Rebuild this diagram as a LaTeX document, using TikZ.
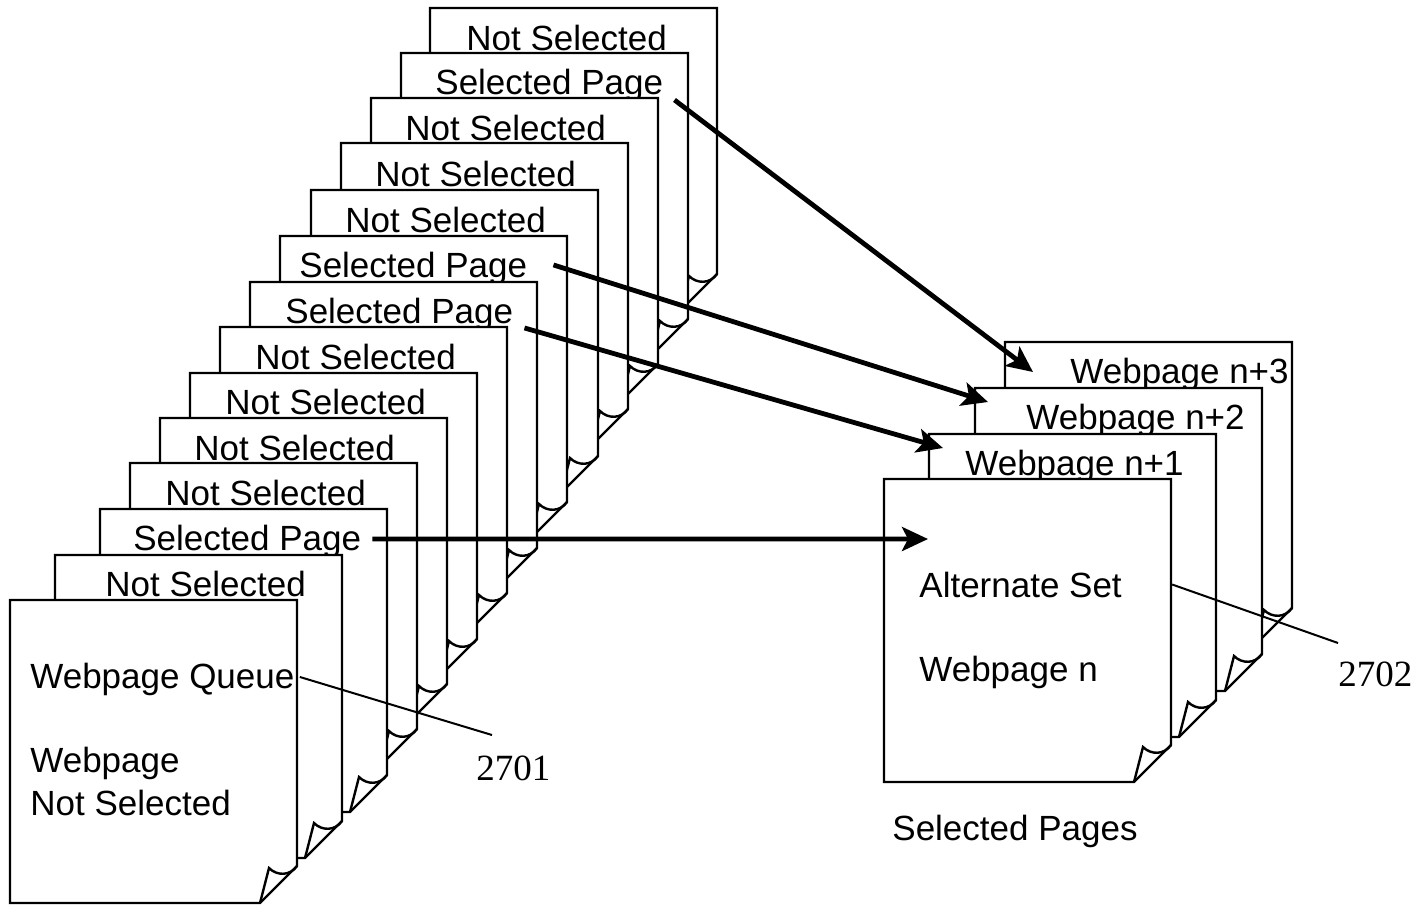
\documentclass[tikz,border=0pt]{standalone}
\usepackage{fontspec}
\setmainfont{Liberation Sans}
\newfontfamily\numfont{Liberation Serif}
\usetikzlibrary{arrows.meta}

\begin{document}
\begin{tikzpicture}[x=0.5pt,y=-0.5pt,
   pgline/.style={line width=1.2pt,line join=miter},
   webpg/.pic={
     \draw[pgline,fill=white] (0,0) -- (287,0) -- (287,266) -- (250,303) -- (0,303) -- cycle;
     \draw[pgline] (250,303) -- (259,268) .. controls (267,276) and (280,276) .. (287,266);
   },
   lbl/.style={anchor=base west,inner sep=0pt,font=\fontsize{17.5}{21}\selectfont},
   refnum/.style={anchor=base west,inner sep=0pt,font=\numfont\fontsize{18.5}{22}\selectfont},
   selarrow/.style={-{Stealth[length=13pt,width=12pt,inset=3pt]},line width=2.4pt},
   leader/.style={line width=1pt}]
 \useasboundingbox (0,0) rectangle (1416,906);

 %coda delle pagine, dal fondo
 \pic at (430,8)   {webpg}; \node[lbl] (q_ns0)  at (466,50)  {Not Selected};
 \pic at (401,53)  {webpg}; \node[lbl] (q_sp1)  at (435,94)  {Selected Page};
 \pic at (371,98)  {webpg}; \node[lbl] (q_ns2)  at (405,140) {Not Selected};
 \pic at (341,143) {webpg}; \node[lbl] (q_ns3)  at (375,186) {Not Selected};
 \pic at (311,190) {webpg}; \node[lbl] (q_ns4)  at (345,232) {Not Selected};
 \pic at (280,236) {webpg}; \node[lbl] (q_sp5)  at (299,277) {Selected Page};
 \pic at (250,282) {webpg}; \node[lbl] (q_sp6)  at (285,323) {Selected Page};
 \pic at (220,327) {webpg}; \node[lbl] (q_ns7)  at (255,369) {Not Selected};
 \pic at (190,373) {webpg}; \node[lbl] (q_ns8)  at (225,414) {Not Selected};
 \pic at (160,418) {webpg}; \node[lbl] (q_ns9)  at (194,460) {Not Selected};
 \pic at (130,463) {webpg}; \node[lbl] (q_ns10) at (165,505) {Not Selected};
 \pic at (100,509) {webpg}; \node[lbl] (q_sp11) at (133,550) {Selected Page};
 \pic at (55,555)  {webpg}; \node[lbl] (q_ns12) at (105,596) {Not Selected};
 %pagina davanti
 \pic at (10,600)  {webpg};
 \node[lbl] (q_head) at (30,688) {Webpage Queue};
 \node[lbl] (q_wp)   at (30,772) {Webpage};
 \node[lbl] (q_not)  at (30,815) {Not Selected};

 %pagine selezionate
 \pic at (1005,342) {webpg}; \node[lbl] (s_n3) at (1070,383) {Webpage n+3};
 \pic at (975,388)  {webpg}; \node[lbl] (s_n2) at (1026,429) {Webpage n+2};
 \pic at (929,434)  {webpg}; \node[lbl] (s_n1) at (965,475)  {Webpage n+1};
 \pic at (884,479)  {webpg};
 \node[lbl] (s_alt) at (919,597) {Alternate Set};
 \node[lbl] (s_n0)  at (919,681) {Webpage n};
 \node[lbl] (s_cap) at (892,840) {Selected Pages};

 \coordinate (t_n3) at (1033,372);
 \coordinate (t_n2) at (988,402);
 \coordinate (t_n1) at (943,448);
 \coordinate (t_n0) at (928,539);

 %numeri di riferimento
 \node[refnum] (r2701) at (476,780) {2701};
 \node[refnum] (r2702) at (1338,686) {2702};
 \draw[leader] ([shift={(5,-2)}]q_head.east) -- ([shift={(16,-20)}]r2701.north west);
 \draw[leader] ([shift={(50,0)}]s_alt.east) -- ([shift={(0,-18)}]r2702.north west);

 %frecce verso le pagine selezionate
 \draw[selarrow] ([shift={(11,15)}]q_sp1.east)  -- (t_n3);
 \draw[selarrow] ([shift={(26,-3)}]q_sp5.east)  -- (t_n2);
 \draw[selarrow] ([shift={(11,14)}]q_sp6.east)  -- (t_n1);
 \draw[selarrow] ([shift={(11,-2)}]q_sp11.east) -- (t_n0);
\end{tikzpicture}
\end{document}
